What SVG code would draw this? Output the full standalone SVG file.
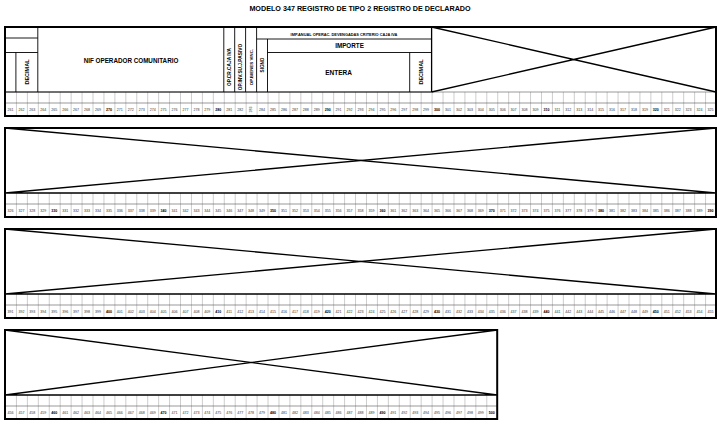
<svg xmlns="http://www.w3.org/2000/svg" width="720" height="425" viewBox="0 0 720 425">
<defs>
<pattern id="cells" patternUnits="userSpaceOnUse" x="5" y="0" width="10.9385" height="30"><rect x="-0.3" y="0" width="0.6" height="30" fill="#555"/></pattern>
</defs>
<style>
text{font-family:"Liberation Sans",Arial,sans-serif;fill:#000}
.n text{font-size:3.6px;text-anchor:middle;fill:#333}
.n .b{font-weight:bold;fill:#000}
.h{font-weight:bold;text-anchor:middle}
.box{fill:none;stroke:#000;stroke-width:2}
.ln{fill:none;stroke:#000;stroke-width:0.9}
.g{fill:none;stroke:#555;stroke-width:0.6}
.x{fill:none;stroke:#000;stroke-width:1.3}
</style>
<rect width="720" height="425" fill="#fff"/>
<text class="h" x="360" y="10.5" font-size="7.2">MODELO 347 REGISTRO DE TIPO 2 REGISTRO DE DECLARADO</text>

<g id="row1" transform="translate(0,27)">
<rect x="5" y="65" width="711" height="24" fill="url(#cells)"/>
<path class="g" d="M5 65H716M5 76H716"/>
<path class="ln" d="M5 11H37.8M5 25.5H37.8M37.8 0V65M15.9 25.5V65M223.8 0V65M234.7 0V65M245.6 0V65M256.6 0V65M267.5 12V65M256.6 12H431.6M267.5 25.5H431.6M409.7 25.5V65M5 65H431.6"/>
<path class="x" d="M431.6 0V65M431.6 0L716 65M431.6 65L716 0"/>
<rect class="box" x="5" y="0" width="711" height="89"/>
<text class="h" x="131" y="35.5" font-size="6.3">NIF OPERADOR COMUNITARIO</text>
<text class="h" font-size="5.5" transform="translate(28.9,45) rotate(-90)">DECIMAL</text>
<text class="h" font-size="4.8" transform="translate(231,40) rotate(-90)">OP.CR.CAJA IVA</text>
<text class="h" font-size="4.8" transform="translate(241.9,40) rotate(-90)">OP.INV.SU.J.PASIVO</text>
<text class="h" font-size="4.4" transform="translate(252.7,40) rotate(-90)">OP.BIENES VINC.</text>
<text class="h" font-size="4.6" transform="translate(263.6,38) rotate(-90)">SIGNO</text>
<text class="h" x="344" y="9" font-size="3.9">IMP.ANUAL OPERAC. DEVENGADAS CRITERIO CAJA IVA</text>
<text class="h" x="349.5" y="21" font-size="6.3">IMPORTE</text>
<text class="h" x="338.5" y="47.5" font-size="6.5">ENTERA</text>
<text class="h" font-size="5.5" transform="translate(422.6,45) rotate(-90)">DECIMAL</text>
<g class="n">
<text x="10.5" y="84">261</text><text x="21.4" y="84">262</text><text x="32.3" y="84">263</text><text x="43.3" y="84">264</text><text x="54.2" y="84">265</text><text x="65.2" y="84">266</text><text x="76.1" y="84">267</text><text x="87.0" y="84">268</text><text x="98.0" y="84">269</text><text class="b" x="108.9" y="84">270</text><text x="119.8" y="84">271</text><text x="130.8" y="84">272</text><text x="141.7" y="84">273</text><text x="152.7" y="84">274</text><text x="163.6" y="84">275</text><text x="174.5" y="84">276</text><text x="185.5" y="84">277</text><text x="196.4" y="84">278</text><text x="207.3" y="84">279</text><text class="b" x="218.3" y="84">280</text><text x="229.2" y="84">281</text><text x="240.2" y="84">282</text><text transform="translate(252.3,82.5) rotate(-90)">283</text><text x="262.0" y="84">284</text><text x="273.0" y="84">285</text><text x="283.9" y="84">286</text><text x="294.9" y="84">287</text><text x="305.8" y="84">288</text><text x="316.7" y="84">289</text><text class="b" x="327.7" y="84">290</text><text x="338.6" y="84">291</text><text x="349.6" y="84">292</text><text x="360.5" y="84">293</text><text x="371.4" y="84">294</text><text x="382.4" y="84">295</text><text x="393.3" y="84">296</text><text x="404.2" y="84">297</text><text x="415.2" y="84">298</text><text x="426.1" y="84">299</text><text class="b" x="437.1" y="84">300</text><text x="448.0" y="84">301</text><text x="458.9" y="84">302</text><text x="469.9" y="84">303</text><text x="480.8" y="84">304</text><text x="491.7" y="84">305</text><text x="502.7" y="84">306</text><text x="513.6" y="84">307</text><text x="524.6" y="84">308</text><text x="535.5" y="84">309</text><text class="b" x="546.4" y="84">310</text><text x="557.4" y="84">311</text><text x="568.3" y="84">312</text><text x="579.2" y="84">313</text><text x="590.2" y="84">314</text><text x="601.1" y="84">315</text><text x="612.1" y="84">316</text><text x="623.0" y="84">317</text><text x="633.9" y="84">318</text><text x="644.9" y="84">319</text><text class="b" x="655.8" y="84">320</text><text x="666.8" y="84">321</text><text x="677.7" y="84">322</text><text x="688.6" y="84">323</text><text x="699.6" y="84">324</text><text x="710.5" y="84">325</text>
</g>
</g>

<g id="row2" transform="translate(0,128)">
<rect x="5" y="65" width="711" height="24" fill="url(#cells)"/>
<path class="g" d="M5 76H716"/>
<path class="x" d="M5 65H716M5 0L716 65M5 65L716 0"/>
<rect class="box" x="5" y="0" width="711" height="89"/>
<g class="n">
<text x="10.5" y="84">326</text><text x="21.4" y="84">327</text><text x="32.3" y="84">328</text><text x="43.3" y="84">329</text><text class="b" x="54.2" y="84">330</text><text x="65.2" y="84">331</text><text x="76.1" y="84">332</text><text x="87.0" y="84">333</text><text x="98.0" y="84">334</text><text x="108.9" y="84">335</text><text x="119.8" y="84">336</text><text x="130.8" y="84">337</text><text x="141.7" y="84">338</text><text x="152.7" y="84">339</text><text class="b" x="163.6" y="84">340</text><text x="174.5" y="84">341</text><text x="185.5" y="84">342</text><text x="196.4" y="84">343</text><text x="207.3" y="84">344</text><text x="218.3" y="84">345</text><text x="229.2" y="84">346</text><text x="240.2" y="84">347</text><text x="251.1" y="84">348</text><text x="262.0" y="84">349</text><text class="b" x="273.0" y="84">350</text><text x="283.9" y="84">351</text><text x="294.9" y="84">352</text><text x="305.8" y="84">353</text><text x="316.7" y="84">354</text><text x="327.7" y="84">355</text><text x="338.6" y="84">356</text><text x="349.6" y="84">357</text><text x="360.5" y="84">358</text><text x="371.4" y="84">359</text><text class="b" x="382.4" y="84">360</text><text x="393.3" y="84">361</text><text x="404.2" y="84">362</text><text x="415.2" y="84">363</text><text x="426.1" y="84">364</text><text x="437.1" y="84">365</text><text x="448.0" y="84">366</text><text x="458.9" y="84">367</text><text x="469.9" y="84">368</text><text x="480.8" y="84">369</text><text class="b" x="491.7" y="84">370</text><text x="502.7" y="84">371</text><text x="513.6" y="84">372</text><text x="524.6" y="84">373</text><text x="535.5" y="84">374</text><text x="546.4" y="84">375</text><text x="557.4" y="84">376</text><text x="568.3" y="84">377</text><text x="579.2" y="84">378</text><text x="590.2" y="84">379</text><text class="b" x="601.1" y="84">380</text><text x="612.1" y="84">381</text><text x="623.0" y="84">382</text><text x="633.9" y="84">383</text><text x="644.9" y="84">384</text><text x="655.8" y="84">385</text><text x="666.8" y="84">386</text><text x="677.7" y="84">387</text><text x="688.6" y="84">388</text><text x="699.6" y="84">389</text><text class="b" x="710.5" y="84">390</text>
</g>
</g>

<g id="row3" transform="translate(0,229)">
<rect x="5" y="65" width="711" height="24" fill="url(#cells)"/>
<path class="g" d="M5 76H716"/>
<path class="x" d="M5 65H716M5 0L716 65M5 65L716 0"/>
<rect class="box" x="5" y="0" width="711" height="89"/>
<g class="n">
<text x="10.5" y="84">391</text><text x="21.4" y="84">392</text><text x="32.3" y="84">393</text><text x="43.3" y="84">394</text><text x="54.2" y="84">395</text><text x="65.2" y="84">396</text><text x="76.1" y="84">397</text><text x="87.0" y="84">398</text><text x="98.0" y="84">399</text><text class="b" x="108.9" y="84">400</text><text x="119.8" y="84">401</text><text x="130.8" y="84">402</text><text x="141.7" y="84">403</text><text x="152.7" y="84">404</text><text x="163.6" y="84">405</text><text x="174.5" y="84">406</text><text x="185.5" y="84">407</text><text x="196.4" y="84">408</text><text x="207.3" y="84">409</text><text class="b" x="218.3" y="84">410</text><text x="229.2" y="84">411</text><text x="240.2" y="84">412</text><text x="251.1" y="84">413</text><text x="262.0" y="84">414</text><text x="273.0" y="84">415</text><text x="283.9" y="84">416</text><text x="294.9" y="84">417</text><text x="305.8" y="84">418</text><text x="316.7" y="84">419</text><text class="b" x="327.7" y="84">420</text><text x="338.6" y="84">421</text><text x="349.6" y="84">422</text><text x="360.5" y="84">423</text><text x="371.4" y="84">424</text><text x="382.4" y="84">425</text><text x="393.3" y="84">426</text><text x="404.2" y="84">427</text><text x="415.2" y="84">428</text><text x="426.1" y="84">429</text><text class="b" x="437.1" y="84">430</text><text x="448.0" y="84">431</text><text x="458.9" y="84">432</text><text x="469.9" y="84">433</text><text x="480.8" y="84">434</text><text x="491.7" y="84">435</text><text x="502.7" y="84">436</text><text x="513.6" y="84">437</text><text x="524.6" y="84">438</text><text x="535.5" y="84">439</text><text class="b" x="546.4" y="84">440</text><text x="557.4" y="84">441</text><text x="568.3" y="84">442</text><text x="579.2" y="84">443</text><text x="590.2" y="84">444</text><text x="601.1" y="84">445</text><text x="612.1" y="84">446</text><text x="623.0" y="84">447</text><text x="633.9" y="84">448</text><text x="644.9" y="84">449</text><text class="b" x="655.8" y="84">450</text><text x="666.8" y="84">451</text><text x="677.7" y="84">452</text><text x="688.6" y="84">453</text><text x="699.6" y="84">454</text><text x="710.5" y="84">455</text>
</g>
</g>

<g id="row4" transform="translate(0,330)">
<rect x="5" y="65" width="492.2" height="24" fill="url(#cells)"/>
<path class="g" d="M5 76H497.2"/>
<path class="x" d="M5 65H497.2M5 0L497.2 65M5 65L497.2 0"/>
<rect class="box" x="5" y="0" width="492.2" height="89"/>
<g class="n">
<text x="10.5" y="84">456</text><text x="21.4" y="84">457</text><text x="32.3" y="84">458</text><text x="43.3" y="84">459</text><text class="b" x="54.2" y="84">460</text><text x="65.2" y="84">461</text><text x="76.1" y="84">462</text><text x="87.0" y="84">463</text><text x="98.0" y="84">464</text><text x="108.9" y="84">465</text><text x="119.8" y="84">466</text><text x="130.8" y="84">467</text><text x="141.7" y="84">468</text><text x="152.7" y="84">469</text><text class="b" x="163.6" y="84">470</text><text x="174.5" y="84">471</text><text x="185.5" y="84">472</text><text x="196.4" y="84">473</text><text x="207.3" y="84">474</text><text x="218.3" y="84">475</text><text x="229.2" y="84">476</text><text x="240.2" y="84">477</text><text x="251.1" y="84">478</text><text x="262.0" y="84">479</text><text class="b" x="273.0" y="84">480</text><text x="283.9" y="84">481</text><text x="294.9" y="84">482</text><text x="305.8" y="84">483</text><text x="316.7" y="84">484</text><text x="327.7" y="84">485</text><text x="338.6" y="84">486</text><text x="349.6" y="84">487</text><text x="360.5" y="84">488</text><text x="371.4" y="84">489</text><text class="b" x="382.4" y="84">490</text><text x="393.3" y="84">491</text><text x="404.2" y="84">492</text><text x="415.2" y="84">493</text><text x="426.1" y="84">494</text><text x="437.1" y="84">495</text><text x="448.0" y="84">496</text><text x="458.9" y="84">497</text><text x="469.9" y="84">498</text><text x="480.8" y="84">499</text><text class="b" x="491.7" y="84">500</text>
</g>
</g>
</svg>
